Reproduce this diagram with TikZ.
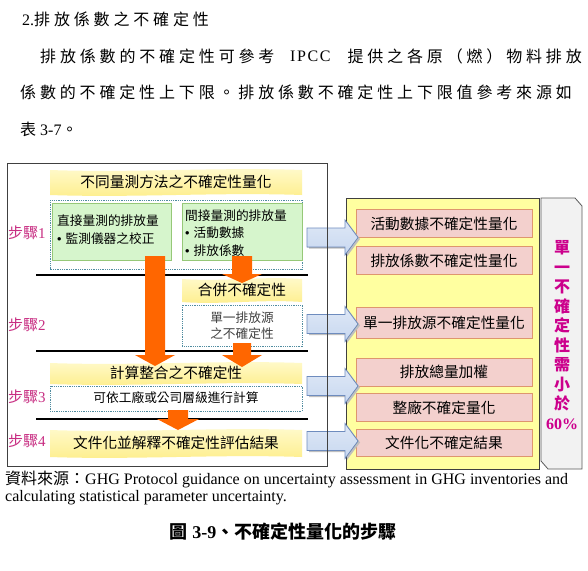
\documentclass[tikz,border=0pt]{standalone}
\usepackage{fontspec}
\setmainfont{Liberation Serif}
\newfontfamily\cjk{Noto Sans CJK TC}
\newfontfamily\cjkls[LetterSpace=24]{Noto Sans CJK TC}
\newfontfamily\serifls[LetterSpace=10]{Liberation Serif}
\newfontfamily\sansf{Liberation Sans}
\newcommand\bul{{\sansf\textbullet}\hspace{4pt}}
\definecolor{bannerA}{RGB}{255,250,205}
\definecolor{bannerB}{RGB}{254,238,140}
\definecolor{greenfill}{RGB}{214,245,204}
\definecolor{greenline}{RGB}{150,200,120}
\definecolor{dotline}{RGB}{80,140,160}
\definecolor{orangec}{RGB}{255,102,0}
\definecolor{bluefill}{RGB}{200,216,240}
\definecolor{blueline}{RGB}{110,140,190}
\definecolor{pinkfill}{RGB}{243,208,205}
\definecolor{pinkline}{RGB}{222,150,110}
\definecolor{yellowbox}{RGB}{255,255,160}
\definecolor{greybox}{RGB}{242,242,242}
\definecolor{steppink}{RGB}{200,45,130}
\definecolor{magentac}{RGB}{204,0,140}
\newcommand\banner[4]{%
  \shade[top color=bannerA,bottom color=bannerB]
    (#1,#2) .. controls ({#1+(#3-#1)/3},{#2+3}) and ({#1+2*(#3-#1)/3},{#2-3}) .. (#3,#2)
    -- (#3,#4) .. controls ({#3-(#3-#1)/3},{#4-3}) and ({#3-2*(#3-#1)/3},{#4+3}) .. (#1,#4) -- cycle;}
\newcommand\odown[6]{%
  \fill[orangec] ({#1-#5},#2) -- ({#1+#5},#2) -- ({#1+#5},#3) -- ({#1+#6},#3) -- (#1,#4)
    -- ({#1-#6},#3) -- ({#1-#5},#3) -- cycle;}
\newcommand\bluearr[1]{%
  \fill[black!25] (309,{#1-8}) -- (347,{#1-8}) -- (347,{#1-16}) -- (360,{#1+1.5}) -- (347,{#1+19})
    -- (347,{#1+11}) -- (309,{#1+11}) -- cycle;
  \filldraw[top color=bluefill!60!white,bottom color=bluefill,draw=blueline,line width=0.7pt]
    (307,{#1-9.5}) -- (345,{#1-9.5}) -- (345,{#1-17.5}) -- (358,#1) -- (345,{#1+17.5})
    -- (345,{#1+9.5}) -- (307,{#1+9.5}) -- cycle;}
\begin{document}
\begin{tikzpicture}[x=1pt,y=-1pt,
  para/.style={inner sep=0pt,font=\fontsize{16}{16}\selectfont},
  big/.style={inner sep=0pt,font=\cjk\fontsize{14.7}{17}\selectfont},
  small/.style={inner sep=0pt,font=\cjk\fontsize{12.7}{18}\selectfont,align=left},
  steplab/.style={inner sep=0pt,anchor=west,text=steppink,font=\fontsize{15}{15}\selectfont},
  dotframe/.style={draw=dotline,line width=0.7pt,dash pattern=on 0.9pt off 0.9pt},
  greenbox/.style={fill=greenfill,draw=greenline,line width=0.7pt},
  pinkbox/.style={fill=pinkfill,draw=pinkline,line width=0.8pt,minimum width=176pt,
     minimum height=28pt,inner sep=0pt,font=\cjk\fontsize{14.7}{17}\selectfont},
  hline/.style={line width=2.5pt,black}]
\useasboundingbox (0,0) rectangle (588,570);
\fill[white] (0,0) rectangle (588,570);
% ---------- text above ----------
\node[para,anchor=west] (h) at (22,19) {2.{\cjkls 排放係數之不確定性}};
\node[para,anchor=west] (p1a) at (40,56) {\cjkls 排放係數的不確定性可參考};
\node[para,anchor=west] (p1b) at (290,56) {\serifls IPCC};
\node[para,anchor=east] (p1c) at (582,56) {\cjkls 提供之各原（燃）物料排放};
\node[para,anchor=west] (p2) at (20,92) {\cjkls 係數的不確定性上下限。排放係數不確定性上下限值參考來源如};
\node[para,anchor=west] (p3) at (20,129) {{\cjk 表} 3-7{\cjk 。}};
% ---------- left panel ----------
\banner{50}{170}{302}{195}
\node[big] (b1) at (176,182) {不同量測方法之不確定性量化};
\draw[dotframe] (50,200) rectangle (302,269);
\draw[greenbox] (52,203) rectangle (171,260);
\draw[greenbox] (182,203) rectangle (302,260);
\node[small,anchor=west] (g1) at (57,230) {直接量測的排放量\\\bul 監測儀器之校正};
\node[small,anchor=west,font=\cjk\fontsize{12.7}{17.5}\selectfont] (g2) at (185,233) {間接量測的排放量\\\bul 活動數據\\\bul 排放係數};
\draw[hline] (36,275) coordinate (l1a) -- (308,275) coordinate (l1b);
\banner{182}{279}{302}{302}
\node[big] (b2) at (242,290) {合併不確定性};
\fill[white] (182,305) rectangle (302,346);
\draw[dotframe] (182,305) rectangle (302,346);
\node[small,align=center,text=black!75,font=\cjk\fontsize{12.7}{16}\selectfont] (g3) at (242,326) {單一排放源\\之不確定性};
\draw[hline] (36,351) coordinate (l2a) -- (308,351) coordinate (l2b);
\banner{50}{363}{302}{384}
\node[big] (b3) at (176,373) {計算整合之不確定性};
\draw[dotframe] (50,386) rectangle (302,411);
\node[small] (g4) at (176,398) {可依工廠或公司層級進行計算};
\draw[hline] (36,419) coordinate (l3a) -- (308,419) coordinate (l3b);
\banner{50}{430}{302}{457}
\node[big] (b4) at (176,443) {文件化並解釋不確定性評估結果};
% step labels
\node[steplab] (s1) at (8,233) {{\cjk 步驟}1};
\node[steplab] (s2) at (8,325) {{\cjk 步驟}2};
\node[steplab] (s3) at (8,397) {{\cjk 步驟}3};
\node[steplab] (s4) at (8,441) {{\cjk 步驟}4};
% orange arrows
\odown{155}{256}{355}{366}{10}{20}
\odown{242}{256}{274}{283}{10}{20}
\odown{242}{343}{355}{367}{9}{20}
\odown{178}{410}{419}{430}{10}{21}
% ---------- right panel ----------
\draw[fill=yellowbox,draw=black!75,line width=0.8pt] (346,198) rectangle (539,469);
\node[pinkbox] (r1) at (444,223.5) {活動數據不確定性量化};
\node[pinkbox] (r2) at (444,260.5) {排放係數不確定性量化};
\node[pinkbox,minimum height=31pt] (r3) at (444,323) {單一排放源不確定性量化};
\node[pinkbox] (r4) at (444,372) {排放總量加權};
\node[pinkbox] (r5) at (444,407.5) {整廠不確定量化};
\node[pinkbox,minimum height=27pt] (r6) at (444,442.5) {文件化不確定結果};
\draw[fill=greybox,draw=black!65,line width=0.8pt] (541,198) -- (575,198) -- (582,206) -- (582,469) -- (548,469) -- (541,461) -- cycle;
\node[inner sep=0pt,align=center,text=magentac,font=\cjk\bfseries\fontsize{16}{19.5}\selectfont] (v) at (562,335)
  {單\\一\\不\\確\\定\\性\\需\\小\\於\\{\rmfamily\bfseries 60\%}};
% blue arrows
\bluearr{237.5}
\bluearr{324}
\bluearr{386}
\bluearr{441}
% left frame
\draw[black!75,line width=0.8pt] (7,163) rectangle (327,466);
% ---------- captions ----------
\node[inner sep=0pt,anchor=west,font=\fontsize{16}{19}\selectfont] (src1) at (5,479)
  {{\cjk 資料來源：}GHG Protocol guidance on uncertainty assessment in GHG inventories and};
\node[inner sep=0pt,anchor=west,font=\fontsize{16}{19}\selectfont] (src2) at (5,498)
  {calculating statistical parameter uncertainty.};
\node[inner sep=0pt,font=\bfseries\fontsize{18}{18}\selectfont] (cap) at (283,532)
  {{\cjk 圖} 3-9{\cjk 、不確定性量化的步驟}};
\end{tikzpicture}
\end{document}
